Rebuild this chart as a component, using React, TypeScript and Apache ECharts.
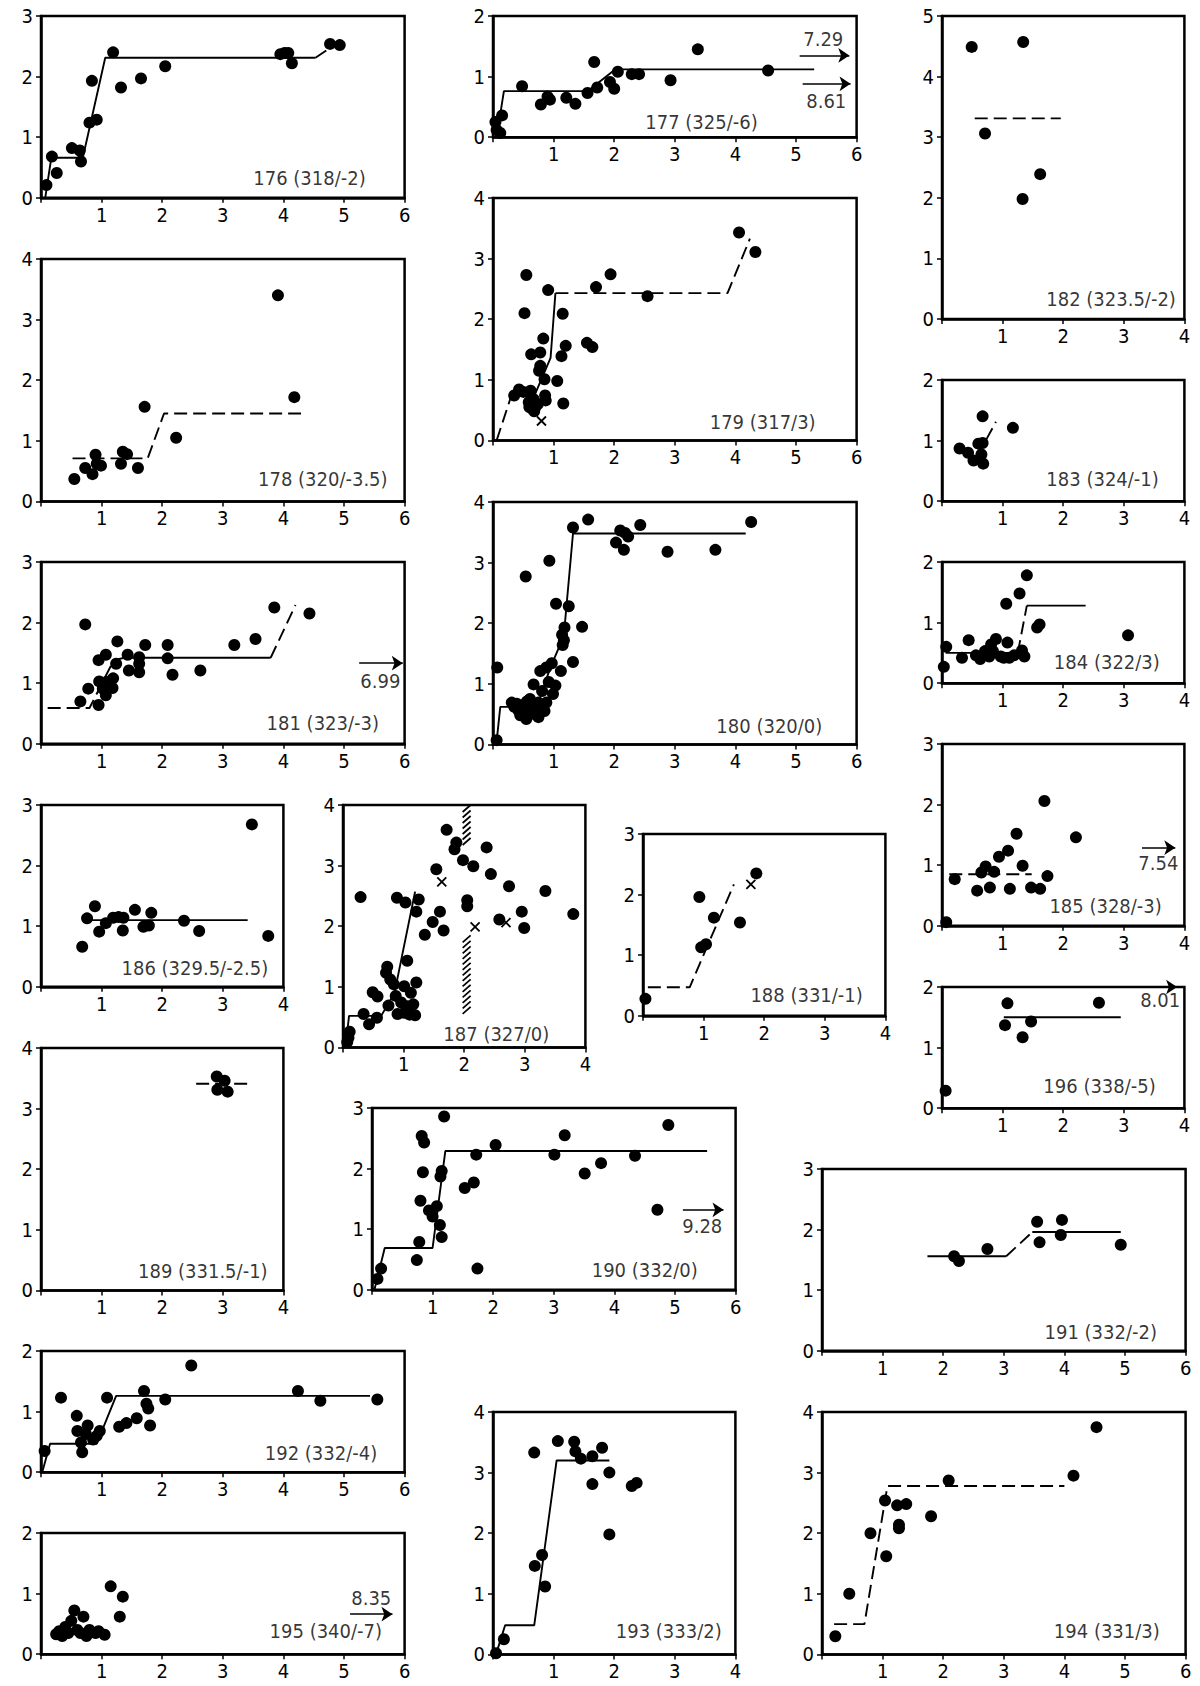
import React, { useEffect, useRef } from "react";
import * as echarts from "echarts";

const FONT = "'DejaVu Sans Condensed', 'Liberation Sans Narrow', 'DejaVu Sans', sans-serif";
const U = 60.6;

// ---------- data ----------
const dots176 = [[0.09,0.21],[0.18,0.68],[0.26,0.41],[0.51,0.82],[0.64,0.78],[0.66,0.6],[0.8,1.24],[0.92,1.29],[0.84,1.93],[1.19,2.4],[1.32,1.82],[1.65,1.97],[2.05,2.17],[3.95,2.37],[4.02,2.39],[4.08,2.39],[4.14,2.22],[4.77,2.54],[4.93,2.52]];
const solid176 = [[0.07,0],[0.1,0.2],[0.17,0.66],[0.69,0.66],[1.06,2.31],[4.53,2.31]];
const dash176 = [[4.53,2.31],[4.75,2.46]];

const dots177 = [[0.04,0.25],[0.06,0.12],[0.12,0.07],[0.15,0.36],[0.48,0.84],[0.79,0.54],[0.9,0.67],[0.94,0.62],[1.21,0.65],[1.36,0.55],[1.56,0.73],[1.67,1.24],[1.72,0.82],[1.93,0.91],[2.0,0.8],[2.06,1.08],[2.29,1.04],[2.41,1.04],[2.93,0.94],[3.38,1.45],[4.54,1.1]];
const solid177 = [[0.12,0.38],[0.18,0.76],[1.56,0.76],[2.02,1.12],[5.3,1.12]];

const dots182 = [[0.49,4.49],[1.34,4.57],[0.71,3.06],[1.62,2.39],[1.33,1.98]];
const dash182 = [[0.54,3.31],[1.96,3.31]];

const dots178 = [[0.55,0.37],[0.73,0.55],[0.85,0.45],[0.9,0.77],[0.92,0.62],[0.99,0.59],[1.32,0.62],[1.35,0.82],[1.42,0.78],[1.6,0.55],[1.71,1.56],[2.23,1.05],[3.91,3.4],[4.18,1.72]];
const dash178 = [[0.52,0.71],[1.76,0.71],[2.03,1.45],[4.29,1.45]];

const dots179 = [[0.55,2.73],[0.52,2.1],[0.91,2.48],[1.15,2.09],[1.7,2.53],[1.94,2.74],[2.55,2.38],[4.06,3.43],[4.33,3.11],[0.83,1.68],[0.63,1.42],[0.78,1.45],[0.78,1.23],[0.76,1.15],[0.85,1.01],[1.06,0.98],[1.13,1.39],[1.2,1.56],[1.55,1.61],[1.64,1.54],[1.16,0.61],[0.86,0.74],[0.87,0.66],[0.35,0.74],[0.43,0.84],[0.5,0.8],[0.62,0.82],[0.59,0.63],[0.67,0.68],[0.7,0.55],[0.65,0.52],[0.74,0.6],[0.6,0.55],[0.68,0.48]];
const cross179 = [[0.8,0.32]];
const dashA179 = [[0.06,0],[0.3,0.73]];
const solid179 = [[0.3,0.73],[0.68,0.73],[0.95,1.36],[1.03,2.43]];
const dashB179 = [[1.03,2.43],[3.87,2.43],[4.24,3.33]];

const dots183 = [[0.29,0.87],[0.43,0.8],[0.52,0.67],[0.6,0.95],[0.67,0.96],[0.65,0.77],[0.68,0.62],[0.67,1.4],[1.17,1.21]];
const dash183 = [[0.58,0.74],[0.89,1.31]];

const dots184 = [[0.03,0.27],[0.07,0.6],[0.44,0.71],[0.56,0.46],[0.71,0.53],[0.81,0.64],[0.89,0.73],[0.84,0.53],[1.08,0.67],[1.06,1.31],[1.28,1.48],[1.4,1.78],[1.57,0.92],[1.61,0.97],[1.32,0.54],[0.97,0.44],[1.19,0.46],[1.36,0.44],[1.11,0.42],[0.33,0.42],[0.63,0.4],[0.78,0.44],[1.02,0.42],[3.07,0.79]];
const solidA184 = [[0.06,0.5],[1.25,0.5]];
const dash184 = [[1.25,0.5],[1.4,1.28]];
const solidB184 = [[1.4,1.28],[2.37,1.28]];

const dots181 = [[0.73,1.97],[0.65,0.7],[0.78,0.91],[0.95,1.38],[1.07,1.47],[0.96,1.03],[0.95,0.64],[1.02,0.91],[1.07,0.8],[1.08,1.02],[1.19,1.08],[1.18,0.92],[1.24,1.32],[1.26,1.69],[1.43,1.47],[1.45,1.21],[1.62,1.43],[1.62,1.32],[1.62,1.18],[1.72,1.63],[2.09,1.63],[2.09,1.41],[2.17,1.14],[2.63,1.21],[3.19,1.63],[3.54,1.73],[3.85,2.25],[4.43,2.15]];
const dashA181 = [[0.11,0.59],[0.8,0.59],[1.2,1.38]];
const solid181 = [[1.2,1.38],[1.38,1.42],[3.79,1.42]];
const dashB181 = [[3.79,1.42],[4.2,2.29]];

const dots180 = [[0.06,0.07],[0.07,1.27],[0.54,2.77],[0.93,3.03],[1.04,2.32],[1.25,2.28],[1.32,3.58],[1.57,3.71],[1.47,1.94],[1.32,1.36],[1.12,1.21],[1.18,1.93],[1.14,1.81],[1.17,1.72],[1.15,1.64],[0.97,1.34],[0.88,1.27],[0.78,1.21],[0.67,0.99],[0.81,0.88],[0.92,1.03],[1.03,0.97],[0.99,0.83],[0.88,0.69],[2.03,3.33],[2.1,3.53],[2.18,3.49],[2.23,3.43],[2.16,3.21],[2.43,3.62],[2.88,3.18],[3.67,3.21],[4.26,3.67],[0.31,0.69],[0.39,0.67],[0.47,0.64],[0.56,0.71],[0.61,0.75],[0.42,0.56],[0.5,0.58],[0.69,0.61],[0.75,0.69],[0.45,0.48],[0.55,0.42],[0.62,0.5],[0.75,0.45],[0.85,0.55],[0.35,0.62]];
const solid180 = [[0.06,0.05],[0.12,0.62],[0.6,0.62],[0.75,0.7],[0.94,1.25],[1.08,1.58],[1.19,2.03],[1.32,3.48],[4.17,3.48]];

const dots186 = [[0.68,0.66],[0.76,1.13],[0.89,1.33],[0.96,0.91],[1.07,1.05],[1.19,1.14],[1.28,1.15],[1.36,1.14],[1.35,0.93],[1.55,1.27],[1.69,0.99],[1.78,1.01],[1.82,1.22],[2.36,1.09],[2.61,0.92],[3.48,2.68],[3.75,0.84]];
const solid186 = [[0.78,1.1],[3.41,1.1]];

const dots187 = [[0.29,2.48],[0.89,2.47],[1.03,2.39],[1.25,2.44],[1.21,2.24],[1.06,1.43],[1.35,1.86],[1.48,2.07],[1.6,2.24],[1.66,1.93],[1.54,2.94],[1.71,3.59],[1.87,3.38],[1.84,3.27],[1.98,3.09],[2.15,2.99],[2.37,3.3],[2.44,2.86],[2.05,2.43],[2.05,2.33],[2.74,2.66],[2.95,2.24],[2.99,1.97],[2.58,2.11],[3.34,2.58],[3.8,2.2],[0.09,0.16],[0.11,0.26],[0.07,0.09],[0.34,0.55],[0.43,0.38],[0.56,0.49],[0.49,0.91],[0.57,0.84],[0.71,1.23],[0.73,1.33],[0.75,0.69],[0.78,1.12],[0.84,1.04],[0.87,0.85],[0.9,0.55],[0.96,0.74],[1.01,1.01],[1.06,0.68],[1.12,0.9],[1.16,0.71],[1.19,0.53],[1.21,1.07],[1.1,0.54],[1.01,0.57]];
const cross187 = [[1.63,2.73],[2.18,1.99],[2.69,2.06]];
const solid187 = [[0.04,0],[0.1,0.52],[0.63,0.52],[0.85,0.9],[1.19,2.57]];
const hatch187 = [[2.04,3.3,4.0],[2.04,0.5,1.85]];

const dots188 = [[0.04,0.28],[0.93,1.96],[0.96,1.13],[1.04,1.18],[1.17,1.62],[1.6,1.54],[1.87,2.35]];
const cross188 = [[1.78,2.17]];
const dash188 = [[0.08,0.47],[0.77,0.47],[1.5,2.17]];

const dots185 = [[0.07,0.06],[0.21,0.77],[0.58,0.58],[0.65,0.88],[0.72,0.98],[0.86,0.89],[0.79,0.63],[0.94,1.14],[1.09,1.24],[1.12,0.61],[1.23,1.52],[1.33,0.99],[1.47,0.63],[1.62,0.61],[1.69,2.06],[1.74,0.82],[2.21,1.46]];
const dash185 = [[0.12,0.85],[1.48,0.85]];

const dots196 = [[0.06,0.29],[1.08,1.73],[1.04,1.37],[1.47,1.43],[1.33,1.17],[2.59,1.74]];
const solid196 = [[1.02,1.5],[2.95,1.5]];

const dots189 = [[2.9,3.53],[3.03,3.46],[2.91,3.31],[3.08,3.28]];
const dash189 = [[2.56,3.41],[3.47,3.41]];

const dots190 = [[0.09,0.18],[0.15,0.35],[0.74,0.49],[0.78,0.79],[0.8,1.47],[0.82,2.54],[0.86,2.43],[0.84,1.94],[0.94,1.31],[1.0,1.21],[1.07,1.38],[1.12,1.07],[1.15,0.87],[1.13,1.87],[1.15,1.96],[1.19,2.86],[1.53,1.68],[1.68,1.77],[1.72,2.23],[1.74,0.35],[2.04,2.39],[3.01,2.23],[3.18,2.55],[3.51,1.92],[3.78,2.09],[4.34,2.21],[4.71,1.32],[4.89,2.72]];
const solid190 = [[0.04,0],[0.21,0.69],[1.0,0.69],[1.21,2.29],[5.53,2.29]];

const dots191 = [[2.18,1.56],[2.26,1.48],[2.73,1.68],[3.55,2.13],[3.59,1.79],[3.96,2.16],[3.94,1.91],[4.93,1.75]];
const solidA191 = [[1.74,1.56],[3.04,1.56]];
const dash191 = [[3.04,1.56],[3.47,1.96]];
const solidB191 = [[3.47,1.96],[4.93,1.96]];

const dots192 = [[0.06,0.35],[0.33,1.23],[0.59,0.93],[0.6,0.68],[0.66,0.49],[0.68,0.33],[0.77,0.77],[0.74,0.63],[0.86,0.54],[0.92,0.6],[0.97,0.68],[1.09,1.23],[1.29,0.75],[1.41,0.81],[1.58,0.89],[1.7,1.34],[1.74,1.13],[1.77,1.05],[1.8,0.77],[2.05,1.2],[2.48,1.76],[4.24,1.34],[4.61,1.18],[5.55,1.2]];
const solid192 = [[0.02,0],[0.15,0.47],[0.92,0.47],[1.24,1.26],[5.43,1.26]];

const dots193 = [[0.05,0.02],[0.18,0.25],[0.69,1.46],[0.81,1.64],[0.86,1.12],[0.68,3.33],[1.07,3.52],[1.34,3.51],[1.36,3.35],[1.45,3.23],[1.64,3.27],[1.8,3.41],[1.64,2.81],[1.92,3.0],[1.92,1.98],[2.29,2.78],[2.37,2.83]];
const solid193 = [[0.05,0],[0.2,0.48],[0.68,0.48],[1.05,3.2],[1.92,3.2]];

const dots194 = [[0.22,0.3],[0.45,1.0],[0.8,2.0],[1.04,2.54],[1.24,2.46],[1.39,2.48],[1.27,2.14],[1.27,2.08],[1.06,1.62],[1.8,2.28],[2.09,2.87],[4.15,2.95],[4.53,3.75]];
const dash194 = [[0.2,0.5],[0.7,0.5],[1.08,2.78],[4.0,2.78]];

const dots195 = [[0.25,0.33],[0.3,0.38],[0.35,0.3],[0.4,0.45],[0.45,0.35],[0.5,0.55],[0.55,0.72],[0.6,0.4],[0.65,0.35],[0.7,0.62],[0.75,0.3],[0.8,0.4],[0.9,0.35],[0.95,0.38],[1.05,0.32],[1.15,1.12],[1.3,0.62],[1.35,0.95]];
const solid195 = [[0.2,0.4],[1.05,0.4]];

// ---------- panel layout ----------
type Arrow = { x1: number; x2: number; y: number; text: string; tx: number; ty: number };
type Panel = {
  left: number; top: number; xMax: number; yMax: number;
  dots: number[][]; crosses?: number[][];
  solid?: number[][][]; dashed?: number[][][];
  label: string; lx: number; ly: number;
  arrows?: Arrow[]; hatch?: number[][];
};

const PANELS: Panel[] = [
  { left: 41, top: 16, xMax: 6, yMax: 3, dots: dots176, solid: [solid176], dashed: [dash176], label: "176 (318/-2)", lx: 4.43, ly: 0.33 },
  { left: 493, top: 16, xMax: 6, yMax: 2, dots: dots177, solid: [solid177], label: "177 (325/-6)", lx: 3.44, ly: 0.25,
    arrows: [{ x1: 5.06, x2: 5.88, y: 1.35, text: "7.29", tx: 5.45, ty: 1.62 }, { x1: 5.11, x2: 5.9, y: 0.88, text: "8.61", tx: 5.5, ty: 0.6 }] },
  { left: 942, top: 16, xMax: 4, yMax: 5, dots: dots182, dashed: [dash182], label: "182 (323.5/-2)", lx: 2.79, ly: 0.33 },
  { left: 41, top: 259, xMax: 6, yMax: 4, dots: dots178, dashed: [dash178], label: "178 (320/-3.5)", lx: 4.65, ly: 0.37 },
  { left: 493, top: 198, xMax: 6, yMax: 4, dots: dots179, crosses: cross179, solid: [solid179], dashed: [dashA179, dashB179], label: "179 (317/3)", lx: 4.45, ly: 0.3 },
  { left: 942, top: 380, xMax: 4, yMax: 2, dots: dots183, dashed: [dash183], label: "183 (324/-1)", lx: 2.65, ly: 0.36 },
  { left: 41, top: 562, xMax: 6, yMax: 3, dots: dots181, solid: [solid181], dashed: [dashA181, dashB181], label: "181 (323/-3)", lx: 4.65, ly: 0.34,
    arrows: [{ x1: 5.25, x2: 5.97, y: 1.33, text: "6.99", tx: 5.6, ty: 1.03 }] },
  { left: 493, top: 502, xMax: 6, yMax: 4, dots: dots180, solid: [solid180], label: "180 (320/0)", lx: 4.56, ly: 0.31 },
  { left: 942, top: 562, xMax: 4, yMax: 2, dots: dots184, solid: [solidA184, solidB184], dashed: [dash184], label: "184 (322/3)", lx: 2.72, ly: 0.35 },
  { left: 942, top: 744, xMax: 4, yMax: 3, dots: dots185, dashed: [dash185], label: "185 (328/-3)", lx: 2.7, ly: 0.33,
    arrows: [{ x1: 3.3, x2: 3.85, y: 1.29, text: "7.54", tx: 3.57, ty: 1.03 }] },
  { left: 41, top: 805, xMax: 4, yMax: 3, dots: dots186, solid: [solid186], label: "186 (329.5/-2.5)", lx: 2.54, ly: 0.31 },
  { left: 343, top: 805, xMax: 4, yMax: 4, dots: dots187, crosses: cross187, solid: [solid187], hatch: hatch187, label: "187 (327/0)", lx: 2.53, ly: 0.22 },
  { left: 643, top: 834, xMax: 4, yMax: 3, dots: dots188, crosses: cross188, dashed: [dash188], label: "188 (331/-1)", lx: 2.7, ly: 0.35 },
  { left: 942, top: 987, xMax: 4, yMax: 2, dots: dots196, solid: [solid196], label: "196 (338/-5)", lx: 2.6, ly: 0.36,
    arrows: [{ x1: 3.3, x2: 3.88, y: 2.0, text: "8.01", tx: 3.6, ty: 1.78 }] },
  { left: 41, top: 1048, xMax: 4, yMax: 4, dots: dots189, dashed: [dash189], label: "189 (331.5/-1)", lx: 2.67, ly: 0.32 },
  { left: 372, top: 1108, xMax: 6, yMax: 3, dots: dots190, solid: [solid190], label: "190 (332/0)", lx: 4.5, ly: 0.32,
    arrows: [{ x1: 5.13, x2: 5.8, y: 1.32, text: "9.28", tx: 5.45, ty: 1.06 }] },
  { left: 822, top: 1169, xMax: 6, yMax: 3, dots: dots191, solid: [solidA191, solidB191], dashed: [dash191], label: "191 (332/-2)", lx: 4.6, ly: 0.31 },
  { left: 41, top: 1351, xMax: 6, yMax: 2, dots: dots192, solid: [solid192], label: "192 (332/-4)", lx: 4.62, ly: 0.32 },
  { left: 493, top: 1412, xMax: 4, yMax: 4, dots: dots193, solid: [solid193], label: "193 (333/2)", lx: 2.9, ly: 0.38 },
  { left: 822, top: 1412, xMax: 6, yMax: 4, dots: dots194, dashed: [dash194], label: "194 (331/3)", lx: 4.7, ly: 0.38 },
  { left: 41, top: 1533, xMax: 6, yMax: 2, dots: dots195, solid: [solid195], label: "195 (340/-7)", lx: 4.7, ly: 0.38,
    arrows: [{ x1: 5.1, x2: 5.8, y: 0.66, text: "8.35", tx: 5.45, ty: 0.92 }] },
];

function textSeries(i: number, x: number, y: number, text: string, size: number) {
  return {
    type: "scatter", xAxisIndex: i, yAxisIndex: i, silent: true, symbolSize: 1, clip: false,
    itemStyle: { color: "rgba(0,0,0,0)" },
    label: { show: true, position: "inside", formatter: text, color: "#000", fontSize: size, fontFamily: FONT },
    data: [[x, y]],
  };
}

function buildOption() {
  const grid: any[] = [], xAxis: any[] = [], yAxis: any[] = [], series: any[] = [];
  PANELS.forEach((p, i) => {
    grid.push({ left: p.left, top: p.top, width: p.xMax * U, height: p.yMax * U, show: true, borderColor: "#000", borderWidth: 2.5, backgroundColor: "transparent" });
    const axisCommon = {
      type: "value", gridIndex: i, min: 0, interval: 1,
      axisLine: { show: true, onZero: false, lineStyle: { color: "#000", width: 2.5 } },
      axisTick: { show: true, length: 5, lineStyle: { color: "#000", width: 1.5 } },
      splitLine: { show: false },
    };
    xAxis.push({ ...axisCommon, max: p.xMax,
      axisLabel: { color: "#000", fontSize: 20, fontFamily: FONT, margin: 7, formatter: (v: number) => (v === 0 ? "" : String(v)) } });
    yAxis.push({ ...axisCommon, max: p.yMax,
      axisLabel: { color: "#000", fontSize: 20, fontFamily: FONT, margin: 8, formatter: (v: number) => String(v) } });

    (p.solid || []).forEach((seg) => series.push({
      type: "line", xAxisIndex: i, yAxisIndex: i, data: seg, symbol: "none", silent: true,
      lineStyle: { color: "#000", width: 1.9, type: "solid" },
    }));
    (p.dashed || []).forEach((seg) => series.push({
      type: "line", xAxisIndex: i, yAxisIndex: i, data: seg, symbol: "none", silent: true,
      lineStyle: { color: "#000", width: 1.9, type: [13, 6] },
    }));
    series.push({
      type: "scatter", xAxisIndex: i, yAxisIndex: i, data: p.dots, symbolSize: 12, silent: true,
      itemStyle: { color: "#000", opacity: 1 },
    });
    if (p.crosses) series.push({
      type: "scatter", xAxisIndex: i, yAxisIndex: i, data: p.crosses, symbol: "path://M0,0L10,10M10,0L0,10", symbolSize: 9, silent: true,
      itemStyle: { color: "rgba(0,0,0,0)", borderColor: "#000", borderWidth: 1.8, opacity: 1 },
    });
    if (p.hatch) series.push({
      type: "custom", xAxisIndex: i, yAxisIndex: i, data: p.hatch, silent: true, clip: false,
      renderItem: (params: any, api: any) => {
        const x = api.value(0), y0 = api.value(1), y1 = api.value(2);
        const t = api.coord([x, y1]);
        const b = api.coord([x, y0]);
        const children: any[] = [];
        for (let yy = t[1]; yy < b[1] - 5; yy += 5.5) {
          children.push({ type: "line", shape: { x1: t[0] - 4, y1: yy + 7, x2: t[0] + 4, y2: yy }, style: { stroke: "#000", lineWidth: 1.7 } });
        }
        return { type: "group", children };
      },
    });
    (p.arrows || []).forEach((a) => {
      series.push({
        type: "line", xAxisIndex: i, yAxisIndex: i, data: [], silent: true, clip: false,
        markLine: {
          silent: true, symbol: ["none", "arrow"], symbolSize: 11, animation: false, precision: 3,
          lineStyle: { color: "#000", width: 1.6, type: "solid", opacity: 1 },
          itemStyle: { color: "#000" },
          label: { show: false },
          data: [[{ coord: [a.x1, a.y], symbol: "none" }, { coord: [a.x2, a.y], symbol: "arrow", symbolSize: 11 }]],
        },
      });
      series.push(textSeries(i, a.tx, a.ty, a.text, 20));
    });
    series.push(textSeries(i, p.lx, p.ly, p.label, 20));
  });
  return { animation: false, backgroundColor: "#fff", grid, xAxis, yAxis, series };
}

export default function App() {
  const ref = useRef<HTMLDivElement>(null);
  useEffect(() => {
    if (!ref.current) return;
    const chart = echarts.init(ref.current, undefined, { renderer: "svg" });
    chart.setOption(buildOption() as any);
    return () => chart.dispose();
  }, []);
  return <div ref={ref} style={{ position: "absolute", left: 0, top: 0, width: 1200, height: 1686, background: "#fff" }} />;
}
